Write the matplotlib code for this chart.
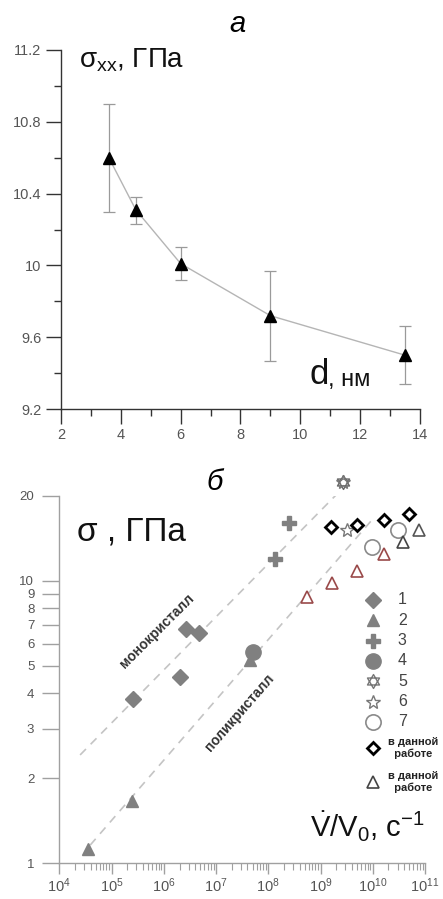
import matplotlib
matplotlib.use("Agg")
import matplotlib.pyplot as plt
from matplotlib.path import Path
from matplotlib.ticker import FixedLocator, NullFormatter
import numpy as np

plt.rcParams['font.family'] = ['Liberation Sans', 'DejaVu Sans']
plt.rcParams['mathtext.fontset'] = 'custom'
plt.rcParams['mathtext.rm'] = 'Liberation Sans'
plt.rcParams['mathtext.it'] = 'Liberation Sans:italic'

# --- панель а: напряжение от размера зерна ---
d_nm = [3.6, 4.5, 6.0, 9.0, 13.5]
sigma_xx = [10.60, 10.31, 10.01, 9.72, 9.50]
err_lo = [0.30, 0.08, 0.09, 0.25, 0.16]
err_hi = [0.30, 0.07, 0.09, 0.25, 0.16]

# --- панель б: напряжение от скорости деформации ---
s1_x = [2.6e5, 2.07e6, 2.66e6, 4.7e6]
s1_y = [3.81, 4.56, 6.74, 6.56]
s2_x = [3.5e4, 2.5e5, 4.5e7]
s2_y = [1.12, 1.66, 5.25]
s3_x = [1.36e8, 2.46e8]
s3_y = [12.0, 16.0]
s4_x = [5.0e7]
s4_y = [5.62]
s5_x = [2.74e9]
s5_y = [22.5]
s6_x = [2.74e9, 3.17e9]
s6_y = [22.5, 15.1]
s7_x = [9.8e9, 3.09e10]
s7_y = [13.2, 15.1]
our_dia_x = [1.59e9, 4.92e9, 1.64e10, 5.02e10]
our_dia_y = [15.5, 15.8, 16.4, 17.3]
our_tri_x = [5.43e8, 1.64e9, 5.0e9, 1.67e10, 3.74e10, 7.7e10]
our_tri_y = [8.8, 9.87, 10.85, 12.5, 13.7, 15.2]
mono_x = [2.5e4, 2.0e9]
mono_y = [2.42, 20.2]
poly_x = [3.9e4, 9.5e9]
poly_y = [1.16, 16.4]
x_decades = [4, 5, 6, 7, 8, 9, 10, 11]

# гексаграмма (маркер 5)
ang_up = np.deg2rad([90, 210, 330, 90])
ang_dn = np.deg2rad([270, 30, 150, 270])
verts = list(zip(np.cos(ang_up), np.sin(ang_up))) + list(zip(np.cos(ang_dn), np.sin(ang_dn)))
codes = [Path.MOVETO, Path.LINETO, Path.LINETO, Path.CLOSEPOLY] * 2
hexagram = Path(verts, codes)

fig = plt.figure(figsize=(4.43, 8.99), dpi=100)
tick_col = '#555555'

# ================= а =================
ax1 = fig.add_axes([0.1377, 0.545, 0.8103, 0.3994])
ax1.plot(d_nm, sigma_xx, color='#b5b5b5', lw=1.0, zorder=1)
ax1.errorbar(d_nm, sigma_xx, yerr=[err_lo, err_hi], fmt='none', ecolor='#9a9a9a',
             elinewidth=0.9, capsize=4, capthick=0.9, zorder=2)
ax1.plot(d_nm, sigma_xx, linestyle='none', marker='^', ms=9, color='black', zorder=3)
ax1.set_xlim(2, 14)
ax1.set_ylim(9.2, 11.2)
ax1.set_xticks(np.arange(2, 15, 2))
ax1.set_xticks(np.arange(3, 14, 2), minor=True)
ax1.set_yticks([9.2, 9.6, 10.0, 10.4, 10.8, 11.2])
ax1.set_yticklabels(['9.2', '9.6', '10', '10.4', '10.8', '11.2'])
ax1.set_yticks(np.arange(9.4, 11.2, 0.4), minor=True)
for s in ['top', 'right']:
    ax1.spines[s].set_visible(False)
for s in ['left', 'bottom']:
    ax1.spines[s].set_color('#333333')
    ax1.spines[s].set_linewidth(1.0)
ax1.tick_params(which='major', length=11, width=1.0, color='#333333',
                labelsize=10.5, labelcolor=tick_col, pad=3)
ax1.tick_params(which='minor', length=5, width=1.0, color='#333333')
ax1.text(0.05, 0.972, r'σ$_{\mathrm{xx}}$, ГПа', transform=ax1.transAxes,
         fontsize=20, va='center', ha='left', color='#111111')
ax1.text(0.745, 0.095, 'd', transform=ax1.transAxes, fontsize=25,
         va='center', ha='right', color='#111111')
ax1.text(0.745, 0.082, ', нм', transform=ax1.transAxes, fontsize=17,
         va='center', ha='left', color='#111111')
fig.text(0.535, 0.9735, 'а', fontsize=21, style='italic', ha='center', va='center')

# ================= б =================
ax2 = fig.add_axes([0.1339, 0.0397, 0.8255, 0.4086])
ax2.set_xscale('log')
ax2.set_yscale('log')
ax2.set_xlim(1e4, 1e11)
ax2.set_ylim(1, 20)

ax2.plot(mono_x, mono_y, linestyle=(0, (5, 4)), color='#c4c4c4', lw=1.2, zorder=1)
ax2.plot(poly_x, poly_y, linestyle=(0, (5, 4)), color='#c4c4c4', lw=1.2, zorder=1)

gray = '#808080'
kw = dict(linestyle='none', clip_on=False, zorder=3)
ax2.plot(s1_x, s1_y, marker='D', ms=8, color=gray, **kw)
ax2.plot(s2_x, s2_y, marker='^', ms=8, color=gray, **kw)
ax2.plot(s3_x, s3_y, marker='P', ms=10, color=gray, **kw)
ax2.plot(s4_x, s4_y, marker='o', ms=11, color=gray, **kw)
ax2.plot(s5_x, s5_y, marker=hexagram, ms=10, mfc='none', mec='#666666', mew=1.0, **kw)
ax2.plot(s6_x, s6_y, marker='*', ms=10, mfc='none', mec='#777777', mew=1.0, **kw)
ax2.plot(s7_x, s7_y, marker='o', ms=11, mfc='none', mec='#8a8a8a', mew=1.2, **kw)
ax2.plot(our_dia_x, our_dia_y, marker='D', ms=6.5, mfc='white', mec='black', mew=2.0, **kw)
tri_edges = ['#9a4a4a', '#9a4a4a', '#9a4a4a', '#9a4a4a', '#444444', '#555555']
for x, y, ec in zip(our_tri_x, our_tri_y, tri_edges):
    ax2.plot([x], [y], marker='^', ms=8, mfc='white', mec=ec, mew=1.2, **kw)

ax2.text(7.3e5, 6.67, 'монокристалл', rotation=45, rotation_mode='anchor',
         ha='center', va='center', fontsize=10, fontweight='bold', color='#333333')
ax2.text(2.88e7, 3.42, 'поликристалл', rotation=49, rotation_mode='anchor',
         ha='center', va='center', fontsize=10, fontweight='bold', color='#333333')

# легенда
leg_rows = [
    dict(marker='D', ms=8, mfc=gray, mec=gray, mew=1, label='1'),
    dict(marker='^', ms=8, mfc=gray, mec=gray, mew=1, label='2'),
    dict(marker='P', ms=10, mfc=gray, mec=gray, mew=1, label='3'),
    dict(marker='o', ms=11, mfc=gray, mec=gray, mew=1, label='4'),
    dict(marker=hexagram, ms=10, mfc='none', mec='#777777', mew=1.0, label='5'),
    dict(marker='*', ms=10, mfc='none', mec='#777777', mew=1.0, label='6'),
    dict(marker='o', ms=11, mfc='none', mec='#8a8a8a', mew=1.2, label='7'),
]
y0 = 0.717
for i, r in enumerate(leg_rows):
    yy = y0 - 0.0553 * i
    lab = r.pop('label')
    ax2.plot([0.858], [yy], transform=ax2.transAxes, linestyle='none', clip_on=False, **r)
    ax2.text(0.926, yy, lab, transform=ax2.transAxes, fontsize=11.5, color='#444444',
             va='center', ha='left')
ax2.plot([0.858], [0.314], transform=ax2.transAxes, linestyle='none', clip_on=False,
         marker='D', ms=6.5, mfc='white', mec='black', mew=2.0)
ax2.text(0.9, 0.314, 'в данной\n  работе', transform=ax2.transAxes, fontsize=8,
         fontweight='bold', color='#222222', va='center', ha='left', linespacing=1.2)
ax2.plot([0.858], [0.222], transform=ax2.transAxes, linestyle='none', clip_on=False,
         marker='^', ms=8, mfc='white', mec='#444444', mew=1.2)
ax2.text(0.9, 0.222, 'в данной\n  работе', transform=ax2.transAxes, fontsize=8,
         fontweight='bold', color='#222222', va='center', ha='left', linespacing=1.2)

ax2.yaxis.set_major_locator(FixedLocator([1, 2, 3, 4, 5, 6, 7, 8, 9, 10, 20]))
ax2.yaxis.set_minor_locator(FixedLocator([]))
ax2.set_yticklabels(['1', '2', '3', '4', '5', '6', '7', '8', '9', '10', '20'])
ax2.xaxis.set_major_locator(FixedLocator([10.0 ** k for k in x_decades]))
ax2.set_xticklabels([r'$10^{%d}$' % k for k in x_decades])
ax2.xaxis.set_minor_locator(FixedLocator([m * 10.0 ** k for k in x_decades[:-1]
                                          for m in range(2, 10)]))
ax2.xaxis.set_minor_formatter(NullFormatter())
for s in ['top', 'right']:
    ax2.spines[s].set_visible(False)
for s in ['left', 'bottom']:
    ax2.spines[s].set_color('#a0a0a0')
    ax2.spines[s].set_linewidth(1.0)
ax2.tick_params(axis='y', which='major', length=12, width=1.0, color='#a0a0a0',
                labelsize=9.5, labelcolor=tick_col, pad=6)
ax2.tick_params(axis='x', which='major', length=8, width=1.0, color='#a0a0a0',
                labelsize=10.5, labelcolor=tick_col, pad=1.5)
ax2.tick_params(axis='x', which='minor', length=5, width=0.8, color='#a0a0a0')

ax2.text(0.048, 0.902, 'σ , ГПа', transform=ax2.transAxes, fontsize=24,
         va='center', ha='left', color='#111111')
ax2.text(1.0, 0.099, r'$\dot{\mathrm{V}}/\mathrm{V}_0$, с$^{-1}$', transform=ax2.transAxes,
         fontsize=21, va='center', ha='right', color='#111111')
fig.text(0.485, 0.4638, 'б', fontsize=21, style='italic', ha='center', va='center')

fig.savefig('out.png', dpi=100)
